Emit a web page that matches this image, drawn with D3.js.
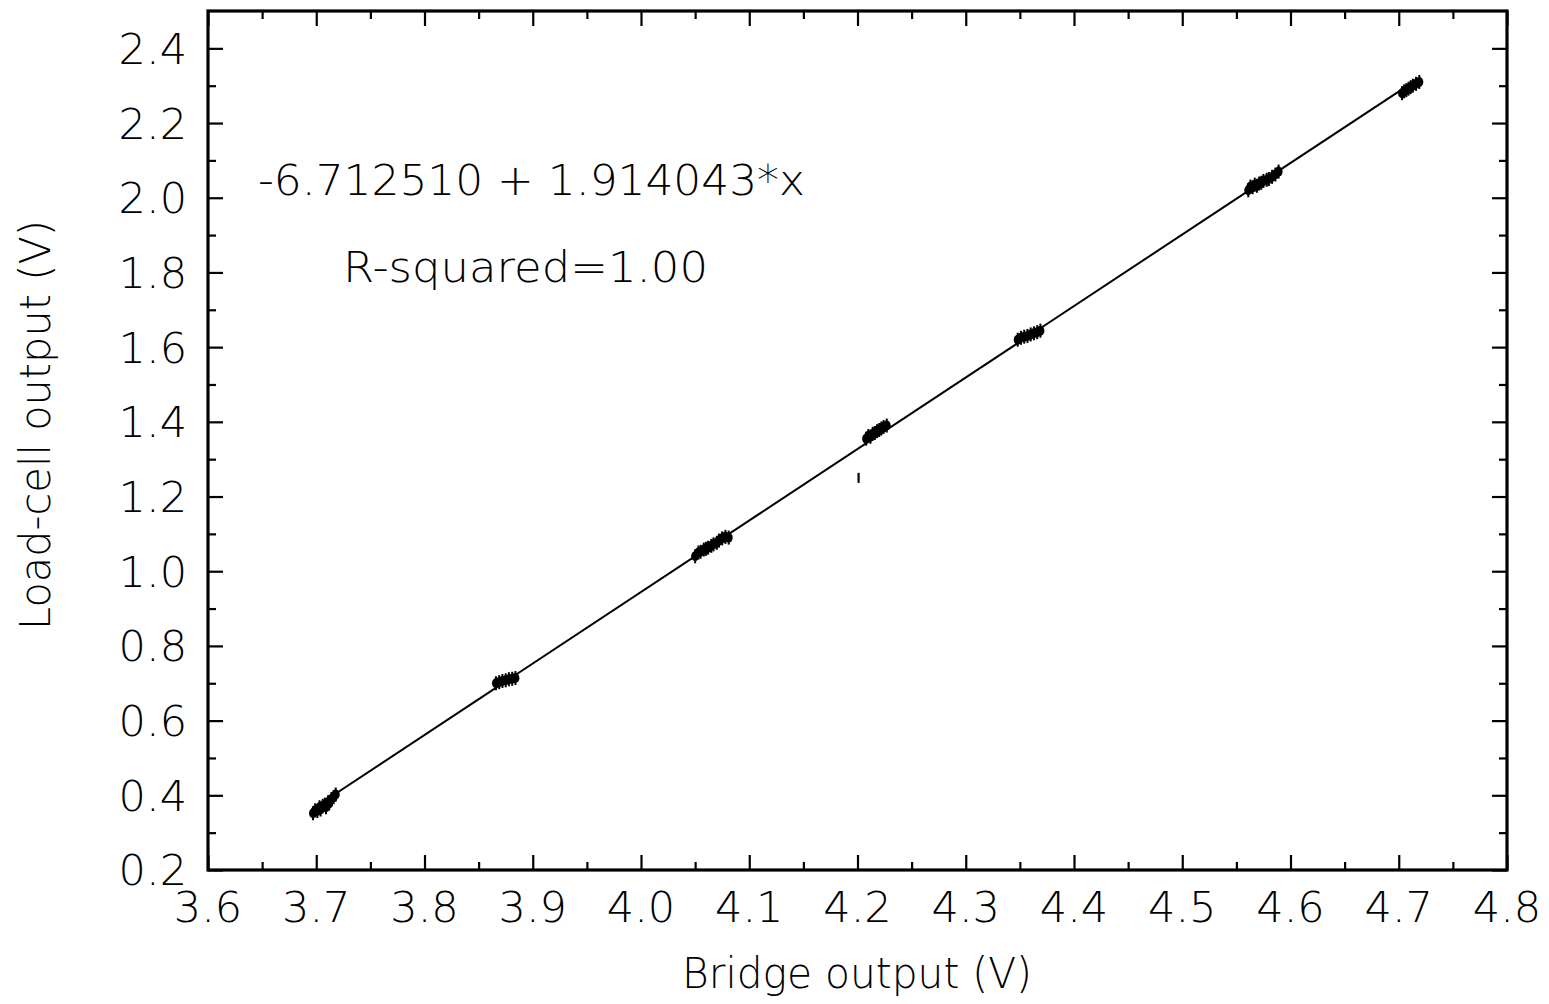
<!DOCTYPE html>
<html>
<head>
<meta charset="utf-8">
<script src="https://cdn.jsdelivr.net/npm/d3@7"></script>
<style>
  html, body { margin: 0; padding: 0; background: #fff; }
  svg { display: block; }
  text { font-family: "DejaVu Sans", "Liberation Sans", sans-serif; font-weight: 200; fill: #000; }
</style>
</head>
<body>
<svg id="chart" width="1549" height="1004"></svg>
<script>
// ---- data ----
const xDomain = [3.6, 4.8];
const yDomain = [0.2, 2.5];
const xMajorTicks = [3.6, 3.7, 3.8, 3.9, 4.0, 4.1, 4.2, 4.3, 4.4, 4.5, 4.6, 4.7, 4.8];
const xMinorTicks = [3.65, 3.75, 3.85, 3.95, 4.05, 4.15, 4.25, 4.35, 4.45, 4.55, 4.65, 4.75];
const yMajorTicks = [0.2, 0.4, 0.6, 0.8, 1.0, 1.2, 1.4, 1.6, 1.8, 2.0, 2.2, 2.4];
const yMinorTicks = [0.3, 0.5, 0.7, 0.9, 1.1, 1.3, 1.5, 1.7, 1.9, 2.1, 2.3];
const xLabels = ["3.6","3.7","3.8","3.9","4.0","4.1","4.2","4.3","4.4","4.5","4.6","4.7","4.8"];
const yLabels = ["0.2","0.4","0.6","0.8","1.0","1.2","1.4","1.6","1.8","2.0","2.2","2.4"];

// measured samples: bridge output (V)
const bridgeX = [
  3.697,3.699,3.701,3.703,3.704,3.706,3.708,3.709,3.711,3.712,3.714,3.716,3.718,
  3.866,3.869,3.872,3.875,3.878,3.881,3.884,
  4.050,4.053,4.055,4.058,4.060,4.062,4.065,4.067,4.070,4.072,4.075,4.078,4.081,
  4.208,4.210,4.212,4.214,4.216,4.218,4.220,4.222,4.224,4.227,
  4.348,4.351,4.354,4.357,4.360,4.363,4.366,4.369,
  4.561,4.563,4.565,4.567,4.569,4.571,4.573,4.575,4.578,4.580,4.583,4.586,4.589,
  4.703,4.705,4.707,4.709,4.711,4.713,4.716,4.719
];
// measured samples: load-cell output (V)
const loadY = [
  0.352,0.360,0.358,0.368,0.362,0.372,0.375,0.368,0.382,0.378,0.390,0.395,0.402,
  0.700,0.703,0.706,0.708,0.711,0.712,0.714,
  1.040,1.050,1.052,1.058,1.060,1.063,1.068,1.072,1.076,1.082,1.088,1.092,1.090,
  1.355,1.362,1.360,1.368,1.370,1.375,1.378,1.382,1.386,1.390,
  1.620,1.625,1.628,1.630,1.634,1.637,1.640,1.644,
  2.020,2.030,2.028,2.035,2.032,2.038,2.040,2.045,2.048,2.050,2.056,2.062,2.070,
  2.280,2.285,2.288,2.292,2.296,2.300,2.305,2.310
];
// isolated outlier sample (drawn as a small vertical stroke)
const outlierX = [4.201];
const outlierY = [1.250];

// fitted line endpoints
const fitX = [3.700, 4.716];
const fitY = [0.370, 2.315];

const equationText = "-6.712510 + 1.914043*x";
const rsqText = "R-squared=1.00";
const xTitle = "Bridge output (V)";
const yTitle = "Load-cell output (V)";

// ---- layout ----
const svg = d3.select("#chart");
const L = 208, R = 1507, T = 11, B = 870;
const x = d3.scaleLinear().domain(xDomain).range([L, R]);
const y = d3.scaleLinear().domain(yDomain).range([B, T]);

const FS = 43;

function axisG(axis, tx, ty) {
  const g = svg.append("g").attr("transform", `translate(${tx},${ty})`).call(axis);
  g.select(".domain").remove();
  g.selectAll(".tick line").attr("stroke", "#000").attr("stroke-width", 2.2);
  g.selectAll("text").remove();
  return g;
}
axisG(d3.axisBottom(x).tickValues(xMajorTicks).tickSize(-15), 0, B);
axisG(d3.axisBottom(x).tickValues(xMinorTicks).tickSize(-8), 0, B);
axisG(d3.axisTop(x).tickValues(xMajorTicks).tickSize(-15), 0, T);
axisG(d3.axisTop(x).tickValues(xMinorTicks).tickSize(-8), 0, T);
axisG(d3.axisLeft(y).tickValues(yMajorTicks).tickSize(-15), L, 0);
axisG(d3.axisLeft(y).tickValues(yMinorTicks).tickSize(-8), L, 0);
axisG(d3.axisRight(y).tickValues(yMajorTicks).tickSize(-15), R, 0);
axisG(d3.axisRight(y).tickValues(yMinorTicks).tickSize(-8), R, 0);

// frame
svg.append("rect")
  .attr("x", L).attr("y", T).attr("width", R - L).attr("height", B - T)
  .attr("fill", "none").attr("stroke", "#000").attr("stroke-width", 3.2);

// tick labels
svg.append("g").selectAll("text").data(xMajorTicks).join("text")
  .attr("x", d => x(d)).attr("y", 922)
  .attr("text-anchor", "middle").attr("font-size", FS)
  .text((d, i) => xLabels[i]);
svg.append("g").selectAll("text").data(yMajorTicks).join("text")
  .attr("x", 187).attr("y", d => y(d)).attr("dy", "0.36em")
  .attr("text-anchor", "end").attr("font-size", FS)
  .text((d, i) => yLabels[i]);

// axis titles
svg.append("text").attr("x", 857).attr("y", 988)
  .attr("text-anchor", "middle").attr("font-size", FS)
  .attr("textLength", 350).attr("lengthAdjust", "spacingAndGlyphs")
  .text(xTitle);
svg.append("text").attr("transform", "translate(50,425) rotate(-90)")
  .attr("text-anchor", "middle").attr("font-size", FS)
  .attr("textLength", 410).attr("lengthAdjust", "spacingAndGlyphs")
  .text(yTitle);

// fitted line
svg.append("path")
  .datum(fitX.map((d, i) => [d, fitY[i]]))
  .attr("d", d3.line().x(d => x(d[0])).y(d => y(d[1])))
  .attr("fill", "none").attr("stroke", "#000").attr("stroke-width", 2);

// data points
const pts = bridgeX.map((d, i) => [d, loadY[i]]);
const pg = svg.append("g");
pg.selectAll("ellipse").data(pts).join("ellipse")
  .attr("cx", d => x(d[0])).attr("cy", d => y(d[1]))
  .attr("rx", 4).attr("ry", 5).attr("fill", "#000");
pg.selectAll("line").data(pts).join("line")
  .attr("x1", d => x(d[0])).attr("x2", d => x(d[0]))
  .attr("y1", d => y(d[1]) - 7).attr("y2", d => y(d[1]) + 7)
  .attr("stroke", "#000").attr("stroke-width", 2);

// outlier stroke
svg.append("g").selectAll("line").data(outlierX.map((d, i) => [d, outlierY[i]])).join("line")
  .attr("x1", d => x(d[0])).attr("x2", d => x(d[0]))
  .attr("y1", d => y(d[1]) - 5).attr("y2", d => y(d[1]) + 5)
  .attr("stroke", "#000").attr("stroke-width", 2.2);

// annotation
svg.append("text").attr("x", 258).attr("y", 195)
  .attr("font-size", FS).attr("textLength", 547).attr("lengthAdjust", "spacingAndGlyphs")
  .text(equationText);
svg.append("text").attr("x", 343).attr("y", 282)
  .attr("font-size", FS).attr("textLength", 365).attr("lengthAdjust", "spacingAndGlyphs")
  .text(rsqText);
</script>
</body>
</html>
